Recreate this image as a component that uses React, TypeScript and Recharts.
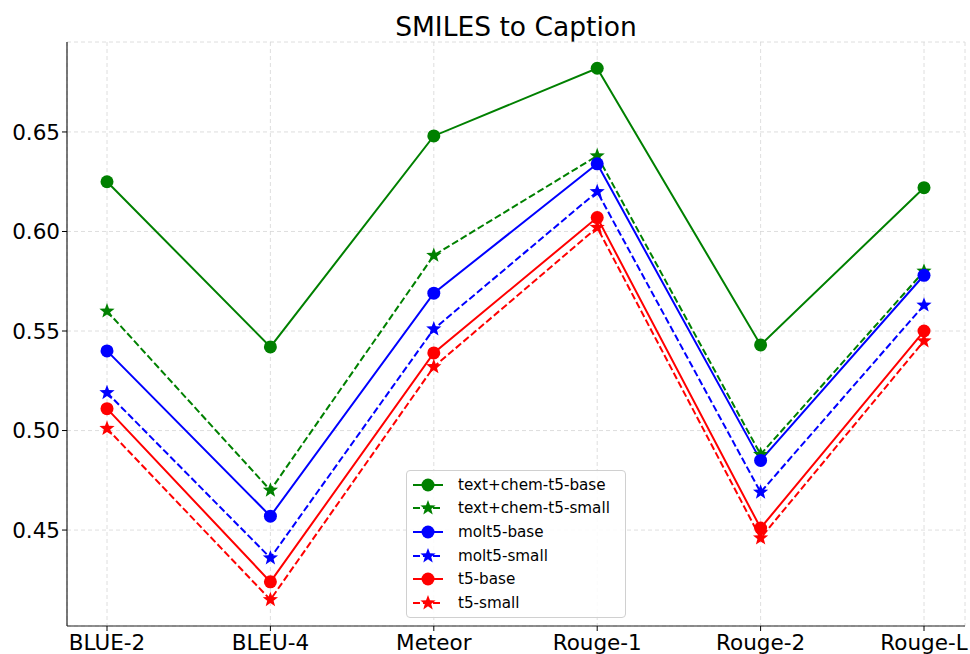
import React from 'react'
import { LineChart, Line, XAxis, YAxis, CartesianGrid } from 'recharts'

const metrics = ['BLUE-2', 'BLEU-4', 'Meteor', 'Rouge-1', 'Rouge-2', 'Rouge-L']
const textChemBase = [0.625, 0.542, 0.648, 0.682, 0.543, 0.622]
const textChemSmall = [0.56, 0.47, 0.588, 0.638, 0.488, 0.58]
const molt5Base = [0.54, 0.457, 0.569, 0.634, 0.485, 0.578]
const molt5Small = [0.519, 0.436, 0.551, 0.62, 0.469, 0.563]
const t5Base = [0.511, 0.424, 0.539, 0.607, 0.451, 0.55]
const t5Small = [0.501, 0.415, 0.532, 0.602, 0.446, 0.545]
const yTicks = [0.45, 0.5, 0.55, 0.6, 0.65]

const series = [
    { key: 'text+chem-t5-base', values: textChemBase, color: '#008000', marker: 'circle', dashed: false },
    { key: 'text+chem-t5-small', values: textChemSmall, color: '#008000', marker: 'star', dashed: true },
    { key: 'molt5-base', values: molt5Base, color: '#0000ff', marker: 'circle', dashed: false },
    { key: 'molt5-small', values: molt5Small, color: '#0000ff', marker: 'star', dashed: true },
    { key: 't5-base', values: t5Base, color: '#ff0000', marker: 'circle', dashed: false },
    { key: 't5-small', values: t5Small, color: '#ff0000', marker: 'star', dashed: true },
]

const data = metrics.map((m, i) => {
    const row: any = { name: m }
    series.forEach(s => { row[s.key] = s.values[i] })
    return row
})

const FONT = '"DejaVu Sans", sans-serif'

function starPath(cx: number, cy: number, r: number) {
    const inner = r * 0.42
    let d = ''
    for (let i = 0; i < 10; i++) {
        const rad = i % 2 === 0 ? r : inner
        const a = -Math.PI / 2 + (i * Math.PI) / 5
        d += (i === 0 ? 'M' : 'L') + (cx + rad * Math.cos(a)).toFixed(2) + ',' + (cy + rad * Math.sin(a)).toFixed(2)
    }
    return d + 'Z'
}

const makeDot = (color: string, marker: string) => (props: any) => {
    const { cx, cy, index } = props
    if (cx == null || cy == null) return <g key={index} />
    if (marker === 'circle') return <circle key={index} cx={cx} cy={cy} r={6.5} fill={color} />
    return <path key={index} d={starPath(cx, cy, 8)} fill={color} />
}

const LegendBox = () => (
    <div style={{
        position: 'absolute', left: 406, top: 470,
        border: '1px solid #d0d0d0', borderRadius: 4, background: 'rgba(255,255,255,0.85)',
        width: 220, height: 148, boxSizing: 'border-box', paddingTop: 2, fontFamily: FONT,
    }}>
        {series.map(s => (
            <div key={s.key} style={{ display: 'flex', alignItems: 'center', height: 23.6 }}>
                <svg width={34} height={20} style={{ marginLeft: 5 }}>
                    <line x1={1} y1={10} x2={31} y2={10} stroke={s.color} strokeWidth={2}
                        strokeDasharray={s.dashed ? '7 3' : undefined} />
                    {s.marker === 'circle'
                        ? <circle cx={16} cy={10} r={6.5} fill={s.color} />
                        : <path d={starPath(16, 10, 8)} fill={s.color} />}
                </svg>
                <span style={{ fontSize: 15.2, color: '#000', marginLeft: 12, whiteSpace: 'nowrap' }}>{s.key}</span>
            </div>
        ))}
    </div>
)

export default function App() {
    return (
        <div style={{ position: 'absolute', left: 0, top: 0, width: 970, height: 654, background: '#fff', fontFamily: FONT }}>
            <div style={{ position: 'absolute', left: 67, width: 898, top: 10, textAlign: 'center', fontSize: 26.5, color: '#000', lineHeight: '34px' }}>
                SMILES to Caption
            </div>
            <LineChart width={970} height={654} data={data} margin={{ top: 42, right: 5, bottom: 0, left: 0 }}>
                <CartesianGrid stroke="#d6d6d6" strokeDasharray="4 3" strokeWidth={0.8} />
                <XAxis dataKey="name" height={28} padding={{ left: 40, right: 41 }}
                    tick={{ fontSize: 21.5, fill: '#000', fontFamily: FONT, dy: 2 }}
                    tickLine={{ stroke: '#000' }} tickSize={5} axisLine={{ stroke: '#222', strokeWidth: 1.2 }}
                    interval={0} />
                <XAxis xAxisId="top" orientation="top" dataKey="name" height={0} tick={false} tickLine={false}
                    axisLine={{ stroke: '#222', strokeWidth: 1.2 }} padding={{ left: 40, right: 41 }} />
                <YAxis type="number" domain={[0.4018, 0.6952]} ticks={yTicks} width={67}
                    tickFormatter={(v: number) => v.toFixed(2)}
                    tick={{ fontSize: 21.5, fill: '#000', fontFamily: FONT }}
                    tickLine={{ stroke: '#000' }} tickSize={5} axisLine={{ stroke: '#222', strokeWidth: 1.2 }}
                    allowDataOverflow />
                <YAxis yAxisId="right" orientation="right" width={0} tick={false} tickLine={false}
                    axisLine={{ stroke: '#222', strokeWidth: 1.2 }} domain={[0.4018, 0.6952]} />
                {series.map(s => (
                    <Line key={s.key} dataKey={s.key} stroke={s.color} strokeWidth={2}
                        strokeDasharray={s.dashed ? '7 3' : undefined}
                        dot={makeDot(s.color, s.marker)} activeDot={false}
                        isAnimationActive={false} />
                ))}
            </LineChart>
            <LegendBox />
        </div>
    )
}
